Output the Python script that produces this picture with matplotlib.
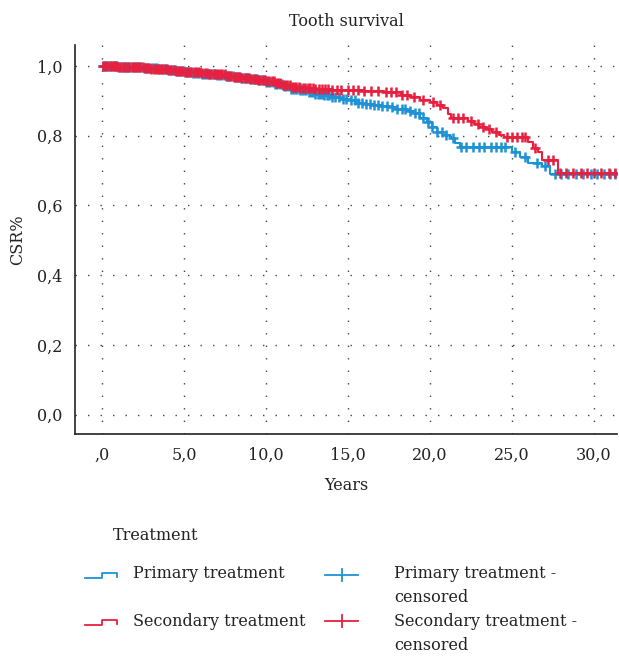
import numpy as np
import matplotlib
matplotlib.use("Agg")
import matplotlib.pyplot as plt
from matplotlib.lines import Line2D

# Kaplan-Meier steps (years, cumulative survival)
prim_t = [0, 0.5, 1.0, 1.5, 2.0, 2.5, 3.0, 3.5, 4.0, 4.5, 5.0, 5.5, 6.0, 6.5, 7.0, 7.5,
          8.0, 8.5, 9.0, 9.5, 10.0, 10.5, 11.0, 11.5, 12.0, 12.5, 13.0, 13.5, 14.0, 14.5,
          15.0, 15.5, 16.0, 16.5, 17.0, 17.5, 18.0, 18.6, 19.0, 19.4, 19.8, 20.1, 20.4,
          20.8, 21.2, 21.5, 21.8, 25.0, 25.5, 26.0, 26.8, 27.3, 31.8]
prim_s = [1.000, 0.999, 0.998, 0.997, 0.996, 0.994, 0.993, 0.990, 0.988, 0.985, 0.983,
          0.980, 0.978, 0.976, 0.973, 0.970, 0.967, 0.964, 0.962, 0.959, 0.955, 0.948,
          0.942, 0.935, 0.930, 0.925, 0.920, 0.916, 0.911, 0.906, 0.902, 0.895, 0.890,
          0.887, 0.884, 0.881, 0.877, 0.872, 0.864, 0.852, 0.838, 0.825, 0.812, 0.803,
          0.793, 0.780, 0.768, 0.752, 0.738, 0.722, 0.712, 0.690, 0.690]

sec_t = [0, 0.5, 1.0, 1.5, 2.0, 2.5, 3.0, 3.5, 4.0, 4.5, 5.0, 5.5, 6.0, 6.5, 7.0, 7.5,
         8.0, 8.5, 9.0, 9.5, 10.0, 10.5, 11.0, 11.5, 12.0, 13.0, 14.0, 15.0, 16.0, 17.2,
         18.2, 18.8, 19.4, 20.0, 20.4, 20.8, 21.1, 21.3, 22.3, 22.7, 23.0, 23.4, 23.8,
         24.2, 24.5, 26.0, 26.3, 26.6, 26.8, 27.8, 31.8]
sec_s = [1.000, 0.999, 0.998, 0.997, 0.996, 0.994, 0.992, 0.990, 0.988, 0.986, 0.984,
         0.982, 0.980, 0.978, 0.976, 0.972, 0.969, 0.966, 0.963, 0.960, 0.957, 0.952,
         0.946, 0.941, 0.937, 0.934, 0.932, 0.930, 0.928, 0.924, 0.916, 0.910, 0.902,
         0.896, 0.889, 0.880, 0.862, 0.852, 0.842, 0.833, 0.825, 0.818, 0.810, 0.803,
         0.795, 0.782, 0.764, 0.752, 0.730, 0.692, 0.692]

# censored observations (years)
prim_cens = [0.05, 0.15, 0.3, 0.42, 0.55, 0.7, 0.81, 0.93, 1.08, 1.2, 1.33, 1.47, 1.6,
             1.72, 1.88, 2.0, 2.13, 2.27, 2.4, 2.55, 2.68, 2.8, 2.96, 3.1, 3.22, 3.37,
             3.5, 3.63, 3.78, 3.9, 4.04, 4.18, 4.3, 4.45, 4.58, 4.72, 4.85, 4.98, 5.12,
             5.26, 5.4, 5.52, 5.67, 5.8, 5.93, 6.07, 6.2, 6.34, 6.48, 6.6, 6.75, 6.88,
             7.0, 7.15, 7.28, 7.42, 7.55, 7.7, 7.83, 7.96, 8.1, 8.23, 8.37, 8.5, 8.64,
             8.78, 8.9, 9.05, 9.18, 9.32, 9.45, 9.6, 9.73, 9.86, 10.0, 10.14, 10.27,
             10.4, 10.55, 10.68, 10.82, 10.95, 11.1, 11.23, 11.37, 11.5, 11.64, 11.78,
             11.9, 12.05, 12.18, 12.32, 12.46, 12.6, 12.73, 12.87, 13.0, 13.15, 13.28,
             13.42, 13.56, 13.7, 13.84, 14.0, 14.2, 14.45, 14.7, 14.9, 15.15, 15.4,
             15.6, 15.85, 16.1, 16.35, 16.6, 16.85, 17.1, 17.4, 17.7, 18.0, 18.3, 18.5,
             18.8, 19.1, 19.3, 19.6, 19.9, 20.1, 20.4, 20.7, 21.0, 21.4, 21.9, 22.2,
             22.6, 23.0, 23.3, 23.7, 24.0, 24.3, 24.6, 25.2, 25.8, 26.5, 27.0, 27.6,
             28.0, 28.4, 28.9, 29.3, 29.8, 30.2, 30.6, 31.0, 31.3]
sec_cens = [0.08, 0.2, 0.33, 0.46, 0.6, 0.73, 0.86, 1.0, 1.12, 1.26, 1.4, 1.53, 1.66,
            1.8, 1.93, 2.06, 2.2, 2.34, 2.47, 2.6, 2.73, 2.87, 3.0, 3.14, 3.27, 3.4,
            3.55, 3.68, 3.82, 3.95, 4.08, 4.22, 4.36, 4.5, 4.63, 4.76, 4.9, 5.04, 5.17,
            5.3, 5.44, 5.58, 5.7, 5.85, 5.98, 6.12, 6.25, 6.4, 6.53, 6.66, 6.8, 6.94,
            7.07, 7.2, 7.34, 7.48, 7.6, 7.75, 7.88, 8.02, 8.15, 8.3, 8.43, 8.56, 8.7,
            8.84, 8.97, 9.1, 9.25, 9.38, 9.52, 9.65, 9.8, 9.93, 10.06, 10.2, 10.34,
            10.48, 10.6, 10.75, 10.88, 11.02, 11.15, 11.3, 11.43, 11.57, 11.7, 11.84,
            11.98, 12.1, 12.25, 12.4, 12.55, 12.7, 12.85, 13.0, 13.2, 13.4, 13.6, 13.8,
            14.0, 14.3, 14.6, 15.0, 15.3, 15.6, 16.0, 16.4, 16.8, 17.3, 17.6, 17.9,
            18.3, 18.6, 19.0, 19.6, 20.2, 20.6, 21.4, 21.7, 22.0, 22.5, 22.9, 23.2,
            23.6, 24.0, 24.7, 25.0, 25.3, 25.6, 25.8, 26.4, 27.2, 27.5, 27.9, 28.3,
            28.7, 29.2, 29.6, 30.0, 30.4, 30.9, 31.3]

xticks = [0, 5, 10, 15, 20, 25, 30]
xtick_labels = [",0", "5,0", "10,0", "15,0", "20,0", "25,0", "30,0"]
yticks = [0.0, 0.2, 0.4, 0.6, 0.8, 1.0]
ytick_labels = ["0,0", "0,2", "0,4", "0,6", "0,8", "1,0"]

BLUE = "#1f92d6"
RED = "#e8203f"
FS = 11.5
TXT = "#222222"

plt.rcParams["font.family"] = ["DejaVu Serif"]
plt.rcParams["font.size"] = FS

fig = plt.figure(figsize=(6.19, 6.58), dpi=100)
ax = fig.add_axes([75 / 619, 1 - 434 / 658, 542 / 619, 389 / 658])


def surv_at(times, surv, c):
    i = np.searchsorted(times, c, side="right") - 1
    return surv[i]


for t, s, cens, col in [(prim_t, prim_s, prim_cens, BLUE), (sec_t, sec_s, sec_cens, RED)]:
    t = np.array(t)
    s = np.array(s)
    ax.step(t, s, where="post", color=col, lw=1.5, zorder=3)
    cy = [surv_at(t, s, c) for c in cens]
    ax.plot(cens, cy, ls="none", marker="+", ms=7.5, mew=1.8, color=col, zorder=4)

ax.set_xlim(-1.65, 31.4)
ax.set_ylim(-0.055, 1.06)
ax.set_xticks(xticks)
ax.set_xticklabels(xtick_labels)
ax.set_yticks(yticks)
ax.set_yticklabels(ytick_labels)
ax.tick_params(length=0, pad=9, colors=TXT, labelsize=FS)

ax.grid(True, color="#444444", lw=1.0, linestyle=(0, (1, 8)))
ax.set_axisbelow(True)
for side in ["top", "right"]:
    ax.spines[side].set_visible(False)
for side in ["left", "bottom"]:
    ax.spines[side].set_linewidth(1.2)
    ax.spines[side].set_color(TXT)

ax.set_title("Tooth survival", fontsize=FS, pad=14, color=TXT)
ax.set_xlabel("Years", fontsize=FS, labelpad=10, color=TXT)
ax.set_ylabel("CSR%", fontsize=FS, labelpad=8, color=TXT)

# legend drawn by hand (pixel coords of the figure)
lg = fig.add_axes([0, 0, 1, 1])
lg.set_xlim(0, 619)
lg.set_ylim(658, 0)
lg.axis("off")
lg.patch.set_alpha(0)

lg.text(113, 536, "Treatment", fontsize=FS, va="center", ha="left", color=TXT)

def step_handle(y, col):
    lg.add_line(Line2D([85, 102, 102, 117, 117], [y + 3, y + 3, y - 2, y - 2, y + 2],
                       color=col, lw=1.3))

def cens_handle(y, col):
    lg.add_line(Line2D([325, 358], [y, y], color=col, lw=1.3))
    lg.add_line(Line2D([341.5, 341.5], [y - 6, y + 6], color=col, lw=1.3))

step_handle(575, BLUE)
lg.text(133, 574, "Primary treatment", fontsize=FS, va="center", color=TXT)
step_handle(622, RED)
lg.text(133, 621, "Secondary treatment", fontsize=FS, va="center", color=TXT)
cens_handle(575, BLUE)
lg.text(394, 574, "Primary treatment -", fontsize=FS, va="center", color=TXT)
lg.text(394, 598, "censored", fontsize=FS, va="center", color=TXT)
cens_handle(621, RED)
lg.text(394, 621, "Secondary treatment -", fontsize=FS, va="center", color=TXT)
lg.text(394, 646, "censored", fontsize=FS, va="center", color=TXT)

fig.savefig("out.png", dpi=100)
